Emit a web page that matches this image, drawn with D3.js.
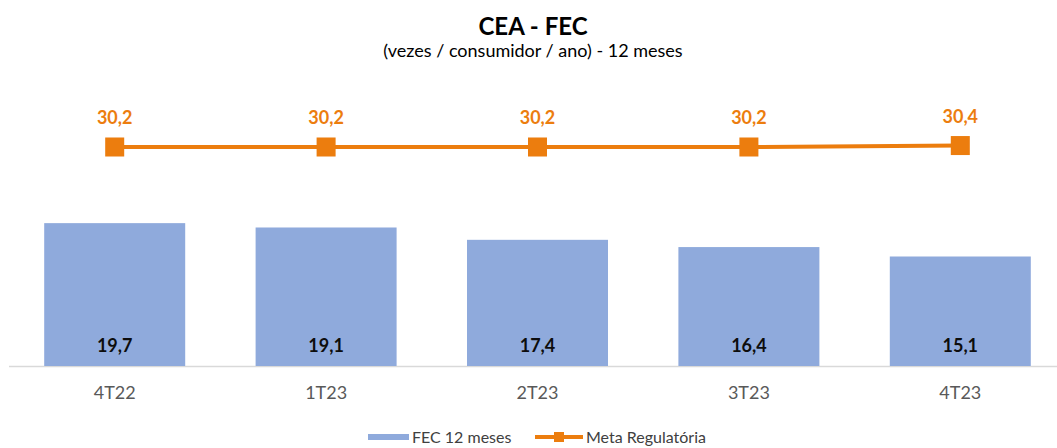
<!DOCTYPE html>
<html><head><meta charset="utf-8">
<script src="https://cdn.jsdelivr.net/npm/d3@7"></script>
<style>body{margin:0;background:#fff}svg{display:block;font-family:Lato,"Open Sans",sans-serif}</style>
</head><body>
<svg id="c" width="1057" height="448"></svg>
<script>
const categories = ["4T22","1T23","2T23","3T23","4T23"];
const fecValues = [19.7,19.1,17.4,16.4,15.1];
const metaValues = [30.2,30.2,30.2,30.2,30.4];
const fmt = v => String(v.toFixed(1)).replace(".", ",");

const svg = d3.select("#c");
const x = d3.scaleBand().domain(categories).range([9, 1066]).paddingInner(0.333).paddingOuter(0.1665);
const y = d3.scaleLinear().domain([0, 30.2]).range([366, 147]);
const blue = "#8FAADC", orange = "#EC7D0E";

svg.append("text").attr("x", 533).attr("y", 35).attr("text-anchor","middle")
  .attr("font-size", 24).attr("font-weight","bold").attr("fill","#000").text("CEA - FEC");
svg.append("text").attr("x", 533).attr("y", 57).attr("text-anchor","middle")
  .attr("font-size", 18).attr("fill","#000").text("(vezes / consumidor / ano) - 12 meses");

svg.append("line").attr("x1", 9).attr("x2", 1057).attr("y1", y(0)+0.5).attr("y2", y(0)+0.5)
  .attr("stroke","#d9d9d9").attr("stroke-width",1.5);

svg.selectAll("rect.bar").data(categories).join("rect").attr("class","bar")
  .attr("x", d => x(d)).attr("width", x.bandwidth())
  .attr("y", (d,i) => y(fecValues[i])).attr("height", (d,i) => y(0) - y(fecValues[i]))
  .attr("fill", blue);

svg.selectAll("text.bl").data(categories).join("text").attr("class","bl")
  .attr("x", d => x(d) + x.bandwidth()/2).attr("y", 352).attr("text-anchor","middle")
  .attr("font-size", 18).attr("font-weight","bold").attr("fill","#0d0d0d")
  .text((d,i) => fmt(fecValues[i]));

const ax = svg.append("g").attr("transform", `translate(0,${y(0)})`)
  .call(d3.axisBottom(x).tickSize(0).tickPadding(20));
ax.select(".domain").remove();
ax.selectAll("text").attr("font-size", 18).attr("fill","#595959").attr("font-family","Lato,'Open Sans',sans-serif");

const line = d3.line().x((d,i) => x(categories[i]) + x.bandwidth()/2).y(d => y(d));
svg.append("path").datum(metaValues).attr("d", line).attr("fill","none")
  .attr("stroke", orange).attr("stroke-width", 4);
svg.selectAll("rect.mk").data(metaValues).join("rect").attr("class","mk")
  .attr("x", (d,i) => x(categories[i]) + x.bandwidth()/2 - 9.5).attr("y", d => y(d) - 9.5)
  .attr("width", 19).attr("height", 19).attr("fill", orange);
svg.selectAll("text.ml").data(metaValues).join("text").attr("class","ml")
  .attr("x", (d,i) => x(categories[i]) + x.bandwidth()/2).attr("y", d => y(d) - 23)
  .attr("text-anchor","middle").attr("font-size", 18).attr("font-weight","bold").attr("fill", orange)
  .text(d => fmt(d));

const lg = svg.append("g");
lg.append("rect").attr("x", 368).attr("y", 434).attr("width", 41).attr("height", 6).attr("fill", blue);
lg.append("text").attr("x", 412).attr("y", 443).attr("font-size", 16).attr("fill","#404040").text("FEC 12 meses");
lg.append("line").attr("x1", 535).attr("x2", 583).attr("y1", 437).attr("y2", 437).attr("stroke", orange).attr("stroke-width", 4);
lg.append("rect").attr("x", 554).attr("y", 432).attr("width", 10).attr("height", 10).attr("fill", orange);
lg.append("text").attr("x", 586).attr("y", 443).attr("font-size", 16).attr("fill","#404040").text("Meta Regulatória");
</script>
</body></html>
